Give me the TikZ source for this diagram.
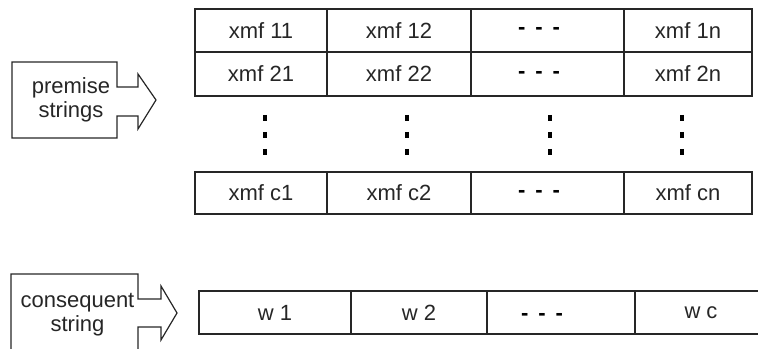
\documentclass[tikz,border=0pt]{standalone}
\usepackage{fontspec}
\setmainfont{Liberation Sans}
\newcommand{\tridash}{\textbf{-\hspace{7.5pt}-\hspace{7.5pt}-}}
\begin{document}
\begin{tikzpicture}[
  x=0.75pt, y=-0.75pt,
  font=\fontsize{16.5}{18}\selectfont,
  cell/.style={draw=black!85, line width=0.9pt, inner sep=0pt, text=black!85},
  wA/.style={minimum width=99pt},
  wB/.style={minimum width=108pt},
  wC/.style={minimum width=114.75pt},
  wD/.style={minimum width=96pt},
  hA/.style={minimum height=32.25pt},
  hB/.style={minimum height=33pt},
  hC/.style={minimum height=31.5pt},
  blockarrow/.style={draw=black!85, line width=0.9pt, line join=miter},
  blocktext/.style={align=center, inner sep=0pt, text=black!85},
  gap/.style={inner sep=0pt, text=black},
  vdots/.style={line width=2.7pt, black, dash pattern=on 4.3pt off 8.4pt}
]
\clip (0,0) rectangle (758,349);

% Top table, row 1
\node[cell, wA, hA] (r1c1) at (261,30.5)   {xmf 11};
\node[cell, wB, hA] (r1c2) at (399,30.5)   {xmf 12};
\node[cell, wC, hA] (r1c3) at (547.5,30.5) {};
\node[cell, wD, hA] (r1c4) at (688,30.5)   {xmf 1n};
\node[gap] (d1) at (539,31) {\tridash};

% Top table, row 2
\node[cell, wA, hB] (r2c1) at (261,74)   {xmf 21};
\node[cell, wB, hB] (r2c2) at (399,74)   {xmf 22};
\node[cell, wC, hB] (r2c3) at (547.5,74) {};
\node[cell, wD, hB] (r2c4) at (688,74)   {xmf 2n};
\node[gap] (d2) at (539,74.5) {\tridash};

% Vertical dots
\foreach \x in {265,407,550,682} {
  \draw[vdots] (\x,115) -- (\x,156);
}

% Top table, row c
\node[cell, wA, hC] (rcc1) at (261,193)   {xmf c1};
\node[cell, wB, hC] (rcc2) at (399,193)   {xmf c2};
\node[cell, wC, hC] (rcc3) at (547.5,193) {};
\node[cell, wD, hC] (rcc4) at (688,193)   {xmf cn};
\node[gap] (dc) at (539,193.5) {\tridash};

% Bottom table
\node[cell, minimum width=114pt, hA] (w1) at (275,312.5) {w 1};
\node[cell, minimum width=102pt, hA] (w2) at (419,312.5) {w 2};
\node[cell, minimum width=111pt, hA] (w3) at (561,312.5) {};
\node[cell, minimum width=99pt,  hA] (wc) at (701,312.5) {w c};
\node[gap] (dw) at (542,317) {\tridash};

% Block arrows
\draw[blockarrow] (12,62) -- (117,62) -- (117,87) -- (138,87) -- (138,74)
  -- (156,100) -- (138,129) -- (138,116) -- (117,116) -- (117,138)
  -- (12,138) -- cycle;
\node[blocktext] (prem) at (71,100) {premise\\strings};

\draw[blockarrow] (11,274) -- (138,274) -- (138,299) -- (161,299) -- (161,286)
  -- (177,313) -- (161,340) -- (161,327) -- (138,327) -- (138,360)
  -- (11,360) -- cycle;
\node[blocktext] (cons) at (77.5,315) {consequent\\string};

\end{tikzpicture}
\end{document}
